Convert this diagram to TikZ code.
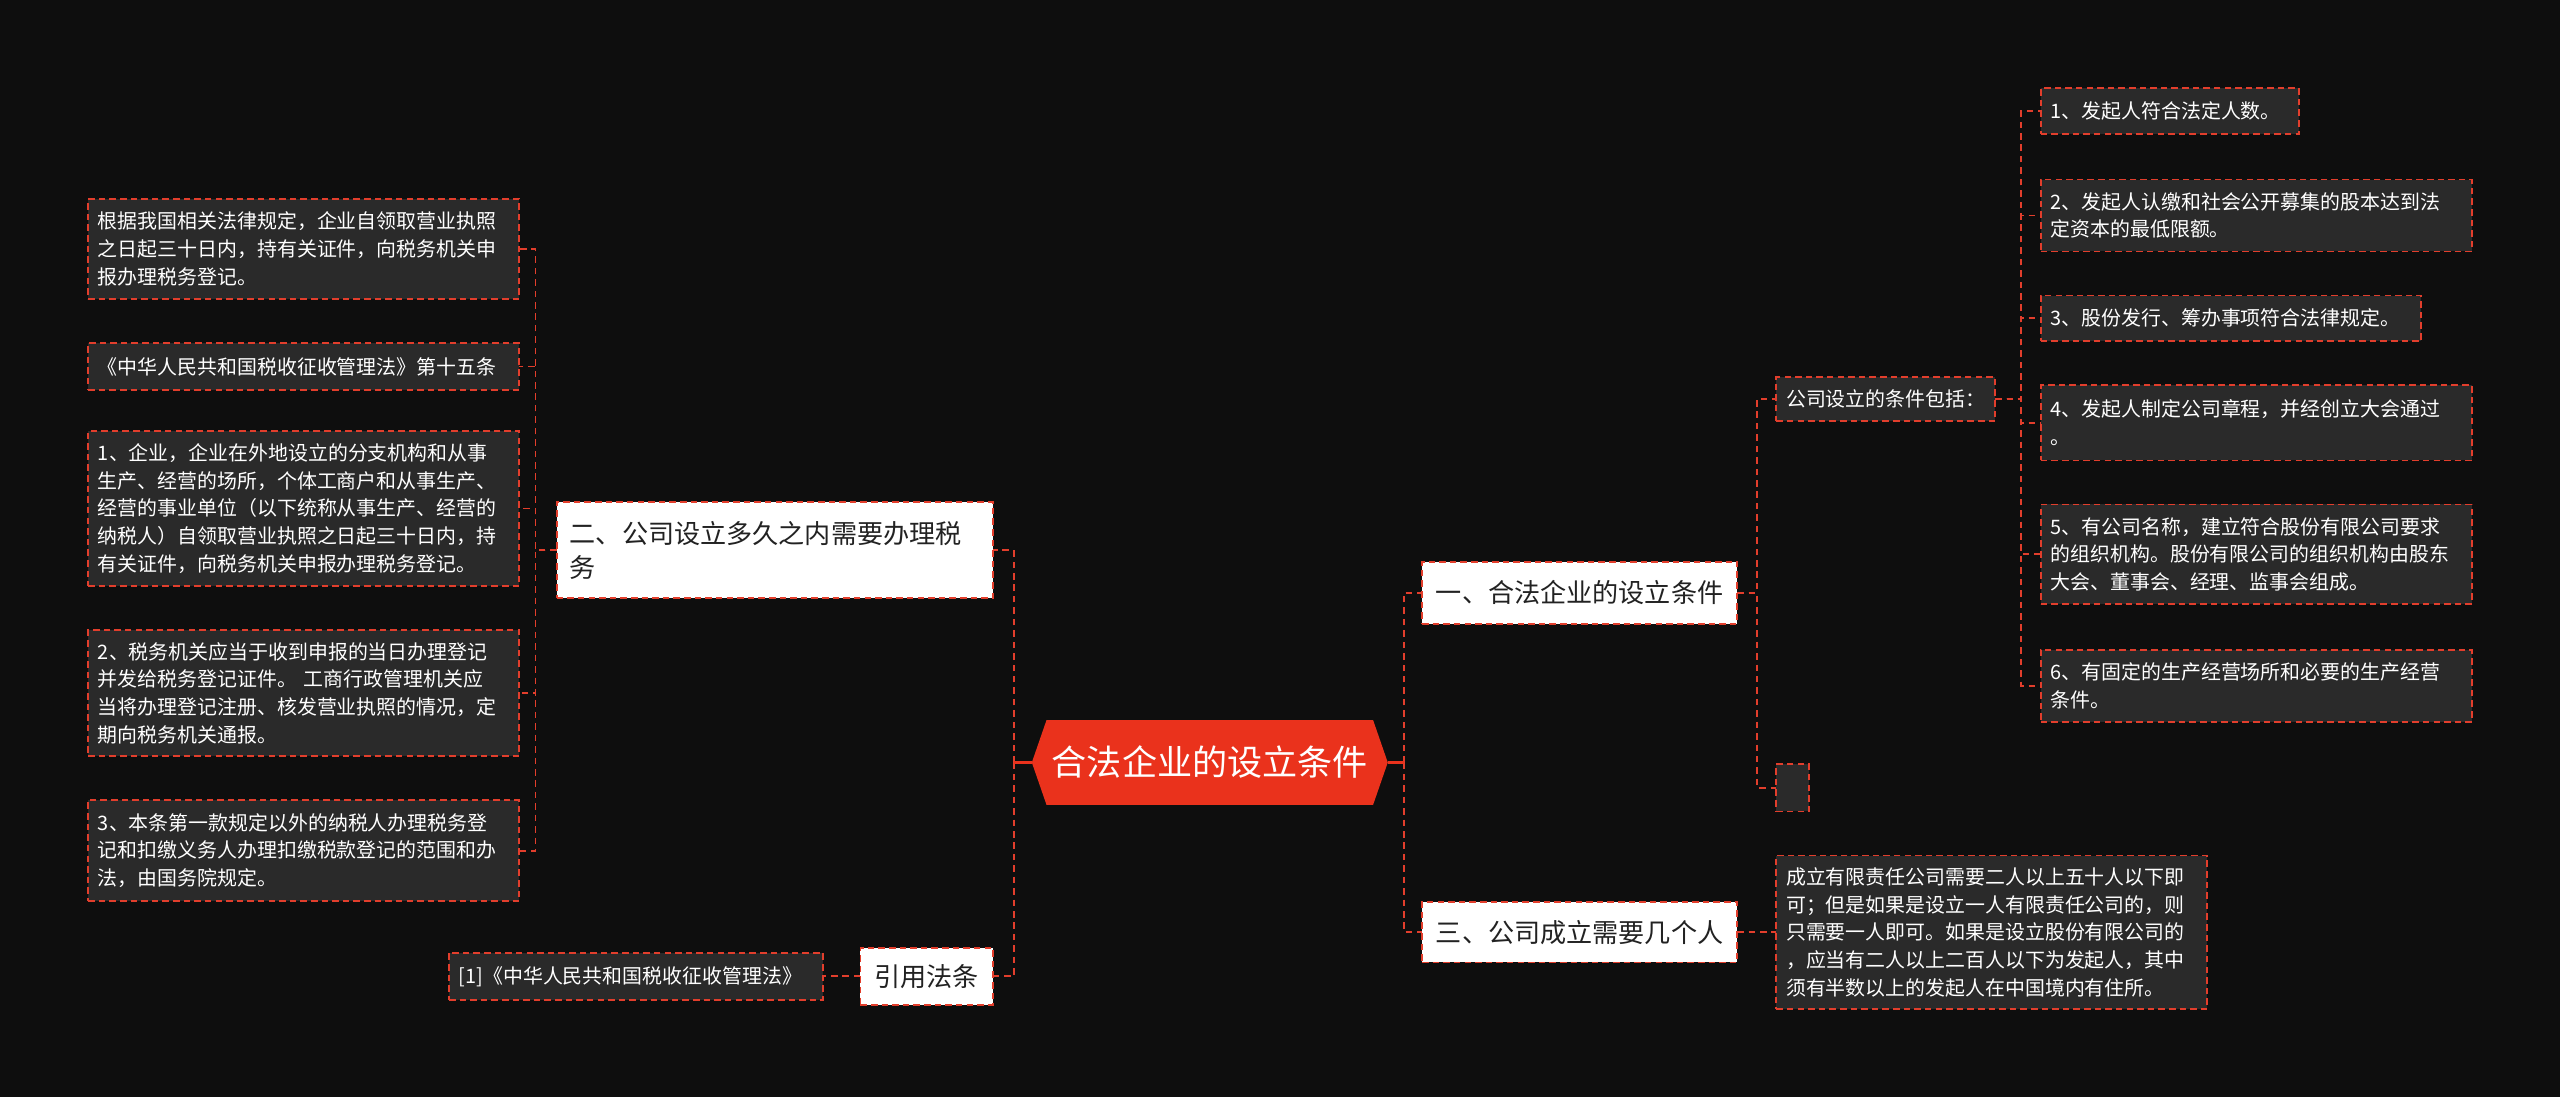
\documentclass[tikz,border=0pt]{standalone}
\usepackage{fontspec}
\setmainfont{Noto Sans CJK SC}
\definecolor{lred}{RGB}{226,62,44}
\definecolor{leafgray}{RGB}{42,42,42}
\definecolor{bgc}{RGB}{14,14,14}
\definecolor{rootred}{RGB}{234,50,28}
\definecolor{textdark}{RGB}{34,34,34}
\begin{document}
\begin{tikzpicture}[x=1pt,y=-1pt,
  every node/.style={inner sep=0pt, outer sep=0pt},
  conn/.style={draw=lred, line width=1.1pt, dash pattern=on 4pt off 3pt},
  rootconn/.style={draw=rootred, line width=1.4pt},
  leaf/.style={draw=lred, fill=leafgray, line width=1.1pt, dash pattern=on 4pt off 2.5pt,
    text=white, font=\fontsize{12.2}{17}\selectfont, align=left, anchor=west, inner xsep=6pt},
  mainbox/.style={draw=lred, fill=white, line width=1.1pt, dash pattern=on 4pt off 2.5pt,
    text=textdark, font=\fontsize{16}{21}\selectfont, anchor=west}
]
\fill[bgc] (0,0) rectangle (1568,672);
\useasboundingbox (0,0) rectangle (1568,672);

% root
\fill[rootred] (641,441) -- (841,441) -- (850,467) -- (841,493) -- (641,493) -- (632,467) -- cycle;
\node[minimum width=218pt, minimum height=52pt, text=white, font=\fontsize{21.5}{26}\selectfont] (root) at (741,467) {合法企业的设立条件};

% main branches
\node[mainbox, text width=251pt, inner xsep=8pt, minimum height=59pt, align=left] (n2) at (341,337) {二、公司设立多久之内需要办理税\\务};
\node[mainbox, minimum width=81pt, minimum height=35pt] (nref) at (527,598) {引用法条};
\node[mainbox, minimum width=193pt, minimum height=38pt] (n1) at (871,363) {一、合法企业的设立条件};
\node[mainbox, minimum width=193pt, minimum height=37pt] (n3) at (871,571) {三、公司成立需要几个人};

% left leaves
\node[leaf, text width=252pt, minimum height=61pt] (la) at (54,152.5) {根据我国相关法律规定，企业自领取营业执照\\之日起三十日内，持有关证件，向税务机关申\\报办理税务登记。};
\node[leaf, text width=252pt, minimum height=29pt] (lb) at (54,224.5) {《中华人民共和国税收征收管理法》第十五条};
\node[leaf, text width=252pt, minimum height=95pt] (lc) at (54,311.5) {1、企业，企业在外地设立的分支机构和从事\\生产、经营的场所，个体工商户和从事生产、\\经营的事业单位（以下统称从事生产、经营的\\纳税人）自领取营业执照之日起三十日内，持\\有关证件，向税务机关申报办理税务登记。};
\node[leaf, text width=252pt, minimum height=77pt] (ld) at (54,424.5) {2、税务机关应当于收到申报的当日办理登记\\并发给税务登记证件。 工商行政管理机关应\\当将办理登记注册、核发营业执照的情况，定\\期向税务机关通报。};
\node[leaf, text width=252pt, minimum height=62pt] (le) at (54,521) {3、本条第一款规定以外的纳税人办理税务登\\记和扣缴义务人办理扣缴税款登记的范围和办\\法，由国务院规定。};
\node[leaf, text width=217pt, minimum height=29pt] (ref1) at (275,598) {[1]《中华人民共和国税收征收管理法》};

% right side
\node[leaf, text width=122pt, minimum height=27pt] (cond) at (1088,244.5) {公司设立的条件包括：};
\node[leaf, text width=8pt, minimum height=29pt] (empty) at (1088,482.5) {};
\node[leaf, text width=146pt, minimum height=28pt] (r1) at (1250,68) {1、发起人符合法定人数。};
\node[leaf, text width=252pt, minimum height=44pt] (r2) at (1250,132) {2、发起人认缴和社会公开募集的股本达到法\\定资本的最低限额。};
\node[leaf, text width=221pt, minimum height=28pt] (r3) at (1250,195) {3、股份发行、筹办事项符合法律规定。};
\node[leaf, text width=252pt, minimum height=46pt] (r4) at (1250,259) {4、发起人制定公司章程，并经创立大会通过\\。};
\node[leaf, text width=252pt, minimum height=61pt] (r5) at (1250,339.5) {5、有公司名称，建立符合股份有限公司要求\\的组织机构。股份有限公司的组织机构由股东\\大会、董事会、经理、监事会组成。};
\node[leaf, text width=252pt, minimum height=44pt] (r6) at (1250,420) {6、有固定的生产经营场所和必要的生产经营\\条件。};
\node[leaf, text width=252pt, minimum height=94pt] (t3) at (1088,571) {成立有限责任公司需要二人以上五十人以下即\\可；但是如果是设立一人有限责任公司的，则\\只需要一人即可。如果是设立股份有限公司的\\，应当有二人以上二百人以下为发起人，其中\\须有半数以上的发起人在中国境内有住所。};

% junctions next to the root
\coordinate (jr) at ([xshift=10pt]root.east);
\coordinate (jl) at ([xshift=-11pt]root.west);

% connectors
\draw[conn] (jr) |- (n1.west);
\draw[conn] (jr) |- (n3.west);
\draw[conn] (jl) |- (n2.east);
\draw[conn] (jl) |- (nref.east);
\draw[rootconn] (root.east) -- (jr);
\draw[rootconn] (root.west) -- (jl);
\foreach \t in {la,lb,lc,ld,le} \draw[conn] (n2.west) -- ++(-13,0) |- (\t.east);
\draw[conn] (nref.west) -- (ref1.east);
\draw[conn] (n1.east) -- ++(12,0) |- (cond.west);
\draw[conn] (n1.east) -- ++(12,0) |- (empty.west);
\foreach \t in {r1,r2,r3,r4,r5,r6} \draw[conn] (cond.east) -- ++(16,0) |- (\t.west);
\draw[conn] (n3.east) -- (t3.west);
\end{tikzpicture}
\end{document}
